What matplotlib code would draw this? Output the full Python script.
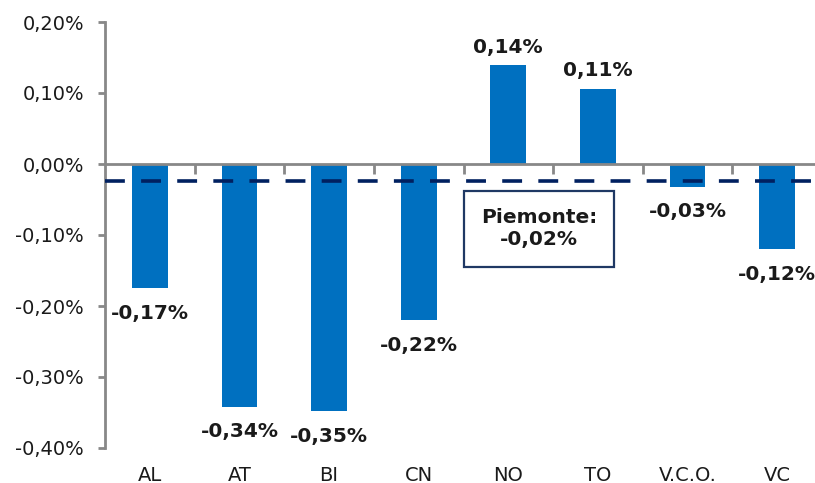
import matplotlib
matplotlib.use("Agg")
import matplotlib.pyplot as plt
from matplotlib.ticker import FixedLocator, FuncFormatter, NullFormatter
import numpy as np

categories = ["AL", "AT", "BI", "CN", "NO", "TO", "V.C.O.", "VC"]
values = [-0.175, -0.342, -0.348, -0.220, 0.139, 0.106, -0.032, -0.120]
value_labels = ["-0,17%", "-0,34%", "-0,35%", "-0,22%", "0,14%", "0,11%", "-0,03%", "-0,12%"]
piemonte_value = -0.024
piemonte_label = "Piemonte:\n-0,02%"
y_ticks = [-0.40, -0.30, -0.20, -0.10, 0.00, 0.10, 0.20]

plt.rcParams['font.family'] = ['DejaVu Sans']

fig = plt.figure(figsize=(8.15, 4.83), dpi=100)
ax = fig.add_axes([105/815, 1 - 448/483, 717/815, 426/483])

gray = "#888888"
bar_color = "#0070C0"
navy = "#002060"
text_color = "#1a1a1a"

x = np.arange(len(categories))
ax.bar(x, values, width=0.40, color=bar_color, zorder=2)

ax.set_xlim(-0.5, len(categories) - 0.5)
ax.set_ylim(-0.40, 0.20)

# Piemonte reference line
ax.axhline(piemonte_value, color=navy, lw=2.6, dashes=(5.5, 4.5), zorder=3)
ax.text(4.34, -0.0915, piemonte_label, ha="center", va="center", fontsize=14.5,
        fontweight="bold", color=text_color, linespacing=1.2,
        bbox=dict(boxstyle="square,pad=0.85", fc="white", ec="#1F3864", lw=1.6), zorder=4)

# value labels
for xi, v, lab in zip(x, values, value_labels):
    off = 18 if v >= 0 else -25
    ax.annotate(lab, (xi, v), xytext=(0, off), textcoords="offset pixels",
                ha="center", va="center", fontsize=14.5, fontweight="bold",
                color=text_color, zorder=5)

# spines
for s in ["top", "right"]:
    ax.spines[s].set_visible(False)
ax.spines["left"].set_color(gray)
ax.spines["left"].set_linewidth(2)
ax.spines["bottom"].set_position(("data", 0))
ax.spines["bottom"].set_color(gray)
ax.spines["bottom"].set_linewidth(2)
ax.spines["bottom"].set_zorder(3)

ax.set_yticks(y_ticks)
ax.yaxis.set_major_formatter(FuncFormatter(lambda v, p: f"{v:.2f}%".replace(".", ",").replace("-0,00", "0,00")))
ax.tick_params(axis="y", colors=gray, length=5, width=2, labelsize=14, labelcolor=text_color, pad=10)

ax.set_xticks(x)
ax.xaxis.set_major_formatter(NullFormatter())
ax.xaxis.set_minor_locator(FixedLocator(x[:-1] + 0.5))
ax.tick_params(axis="x", which="major", length=0)
ax.tick_params(axis="x", which="minor", length=7, width=2, color=gray, direction="out")

sec = ax.secondary_xaxis("bottom")
sec.set_xticks(x)
sec.set_xticklabels(categories)
sec.spines["bottom"].set_visible(False)
sec.tick_params(length=0, labelsize=14, labelcolor=text_color, pad=13)

fig.savefig("out.png", dpi=100)
